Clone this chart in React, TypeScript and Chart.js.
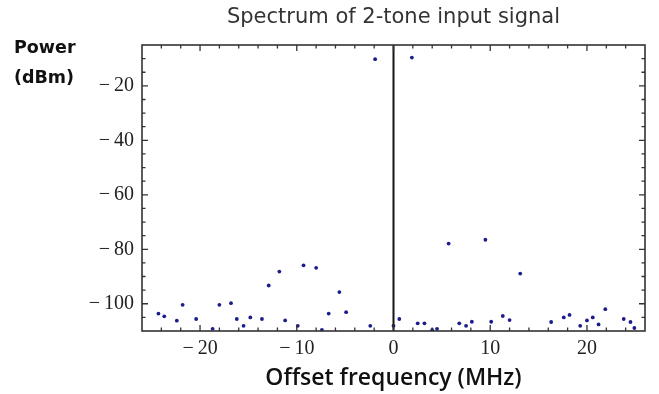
import React, { useEffect, useRef } from "react";
import { Chart, registerables } from "chart.js";

Chart.register(...registerables);

// Offset frequency (MHz) of each spectral sample
const freqMHz = [
  -24.3, -23.7, -22.4, -21.8, -20.4, -18.7, -18.0, -16.8, -16.2, -15.5,
  -14.8, -13.6, -12.9, -11.8, -11.2, -9.9, -9.3, -8.0, -7.4, -6.7,
  -5.6, -4.9, -2.4, -1.9, 0.0, 0.6, 1.9, 2.5, 3.2, 4.0,
  4.5, 5.7, 6.8, 7.5, 8.1, 9.5, 10.1, 11.3, 12.0, 13.1,
  16.3, 17.6, 18.2, 19.3, 20.0, 20.6, 21.2, 21.9, 23.8, 24.5, 24.9,
];
// Power (dBm) of each spectral sample
const powerDbm = [
  -103.6, -104.6, -106.2, -100.4, -105.6, -109.2, -100.4, -99.8, -105.6, -108.1,
  -105.0, -105.6, -93.3, -88.2, -106.1, -108.1, -85.9, -86.8, -109.6, -103.6,
  -95.7, -103.1, -108.1, -10.2, -108.1, -105.6, -9.6, -107.2, -107.2, -109.6,
  -109.2, -77.9, -107.2, -108.1, -106.6, -76.5, -106.6, -104.5, -106.0, -88.9,
  -106.7, -105.0, -104.1, -108.1, -106.1, -105.0, -107.6, -102.0, -105.6, -106.7, -108.9,
];

const xMajorTicks = [-20, -10, 0, 10, 20];
const xMinorTicks = [-24, -22, -18, -16, -14, -12, -8, -6, -4, -2, 2, 4, 6, 8, 12, 14, 16, 18, 22, 24];
const yMajorTicks = [-100, -80, -60, -40, -20];
const yMinorTicks = [-105, -95, -90, -85, -75, -70, -65, -55, -50, -45, -35, -30, -25, -15, -10];

const xRange = [-26, 26];
const yRange = [-110, -5];

const titleText = "Spectrum of 2-tone input signal";
const xTitle = "Offset frequency (MHz)";
const yTitleLines = ["Power", "(dBm)"];

const fmt = (v: number) => (v < 0 ? "\u2212\u2009" + Math.abs(v) : String(v));

const framePlugin = {
  id: "frame",
  afterDatasetsDraw(chart: any) {
    const { ctx, chartArea } = chart;
    const { left, right, top, bottom } = chartArea;
    const xs = chart.scales.x;
    const ys = chart.scales.y;
    ctx.save();
    // zero line
    const x0 = xs.getPixelForValue(0);
    ctx.strokeStyle = "#151515";
    ctx.lineWidth = 2;
    ctx.beginPath();
    ctx.moveTo(x0, top);
    ctx.lineTo(x0, bottom);
    ctx.stroke();
    // ticks
    ctx.strokeStyle = "#333";
    ctx.lineWidth = 1.3;
    ctx.beginPath();
    const hTick = (v: number, len: number) => {
      const p = xs.getPixelForValue(v);
      ctx.moveTo(p, bottom);
      ctx.lineTo(p, bottom - len);
      ctx.moveTo(p, top);
      ctx.lineTo(p, top + len);
    };
    const vTick = (v: number, len: number) => {
      const p = ys.getPixelForValue(v);
      ctx.moveTo(left, p);
      ctx.lineTo(left + len, p);
      ctx.moveTo(right, p);
      ctx.lineTo(right - len, p);
    };
    xMajorTicks.forEach((v) => hTick(v, 6));
    xMinorTicks.forEach((v) => hTick(v, 3.5));
    yMajorTicks.forEach((v) => vTick(v, 6));
    yMinorTicks.forEach((v) => vTick(v, 3.5));
    ctx.stroke();
    // frame
    ctx.strokeStyle = "#333";
    ctx.lineWidth = 1.6;
    ctx.strokeRect(left, top, right - left, bottom - top);
    // y-axis title
    ctx.fillStyle = "#111";
    ctx.font = "bold 17.5px 'DejaVu Sans'";
    ctx.textAlign = "left";
    ctx.textBaseline = "alphabetic";
    ctx.fillText(yTitleLines[0], 14, 53);
    ctx.fillText(yTitleLines[1], 14, 83);
    ctx.restore();
  },
};

export default function App() {
  const ref = useRef<HTMLCanvasElement | null>(null);
  useEffect(() => {
    if (!ref.current) return;
    const chart = new Chart(ref.current, {
      type: "scatter",
      data: {
        datasets: [
          {
            data: freqMHz.map((f, i) => ({ x: f, y: powerDbm[i] })),
            pointRadius: 1.9,
            pointBackgroundColor: "#1c1c8c",
            pointBorderWidth: 0,
          },
        ],
      },
      options: {
        animation: false,
        responsive: false,
        devicePixelRatio: 1,
        layout: { padding: { left: 0, right: 14, top: 0, bottom: 0 } },
        plugins: {
          legend: { display: false },
          tooltip: { enabled: false },
          title: {
            display: true,
            text: titleText,
            fullSize: false,
            color: "#333",
            font: { family: "'DejaVu Sans'", size: 21, weight: "normal" },
            padding: { top: 4.5, bottom: 15.3 },
          },
        },
        scales: {
          x: {
            type: "linear",
            min: xRange[0],
            max: xRange[1],
            afterBuildTicks: (s: any) => {
              s.ticks = xMajorTicks.map((v) => ({ value: v }));
            },
            afterFit: (s: any) => {
              s.height = 63;
            },
            grid: { display: false, drawTicks: false, tickLength: 0 },
            border: { display: false },
            ticks: {
              padding: 6,
              color: "#222",
              font: { family: "'Liberation Serif'", size: 20 },
              callback: (v: any) => fmt(Number(v)),
            },
            title: {
              display: true,
              text: xTitle,
              color: "#111",
              font: { family: "'Open Sans'", size: 23, weight: "600" },
              padding: { top: 0, bottom: 2 },
            },
          },
          y: {
            type: "linear",
            min: yRange[0],
            max: yRange[1],
            afterBuildTicks: (s: any) => {
              s.ticks = yMajorTicks.map((v) => ({ value: v }));
            },
            afterFit: (s: any) => {
              s.width = 142;
            },
            grid: { display: false, drawTicks: false, tickLength: 0 },
            border: { display: false },
            ticks: {
              padding: 8,
              color: "#222",
              font: { family: "'Liberation Serif'", size: 20 },
              callback: (v: any) => fmt(Number(v)),
            },
          },
        },
      },
      plugins: [framePlugin],
    });
    return () => chart.destroy();
  }, []);
  return (
    <div style={{ position: "fixed", left: 0, top: 0, width: 659, height: 394, background: "#fff" }}>
      <canvas ref={ref} width={659} height={394} />
    </div>
  );
}
